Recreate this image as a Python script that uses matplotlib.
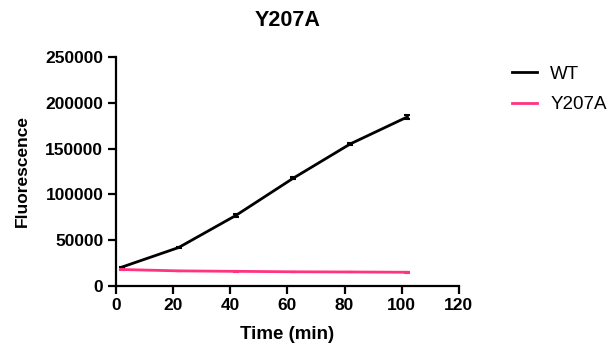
import matplotlib.pyplot as plt
from matplotlib.lines import Line2D
import numpy as np

plt.rcParams['font.family'] = ['Liberation Sans', 'DejaVu Sans']

time = [2, 22, 42, 62, 82, 102]
wt = [20500, 42000, 77000, 117500, 155000, 184500]
wt_err = [600, 1000, 1200, 1200, 1500, 2000]
y207a = [18000, 16500, 16000, 15500, 15300, 15000]
y207a_err = [400, 300, 300, 300, 300, 300]
series_names = ['WT', 'Y207A']
colors = ['black', '#ff3380']

fig = plt.figure(figsize=(6.16, 3.52), dpi=100)
ax = fig.add_axes([0.188, 0.1875, 0.557, 0.651])

ax.errorbar(time, wt, yerr=wt_err, color=colors[0], linewidth=2, capsize=2.5,
            capthick=1.5, elinewidth=1.5)
ax.errorbar(time, y207a, yerr=y207a_err, color=colors[1], linewidth=2, capsize=2.5,
            capthick=1.5, elinewidth=1.5)

ax.set_xlim(0, 120)
ax.set_ylim(0, 250000)
ax.set_xticks(np.arange(0, 121, 20))
ax.set_yticks(np.arange(0, 250001, 50000))

ax.spines['right'].set_visible(False)
ax.spines['top'].set_visible(False)
for s in ['left', 'bottom']:
    ax.spines[s].set_linewidth(1.6)
ax.tick_params(width=1.6, length=6, labelsize=12.5, pad=3)
for lab in ax.get_xticklabels() + ax.get_yticklabels():
    lab.set_fontweight('bold')

ax.set_xlabel('Time (min)', fontsize=13.5, fontweight='bold', labelpad=9)
ax.set_ylabel('Fluorescence', fontsize=12.5, fontweight='bold', labelpad=11)
ax.set_title('Y207A', fontsize=15.5, fontweight='bold', pad=22)

handles = [Line2D([], [], color=c, linewidth=2) for c in colors]
ax.legend(handles, series_names, loc='upper left', bbox_to_anchor=(1.155, 0.962),
          frameon=False, fontsize=13.5, handlelength=1.33, handletextpad=0.7,
          labelspacing=0.72, borderpad=0, borderaxespad=0)

fig.savefig('out.png', dpi=100)
